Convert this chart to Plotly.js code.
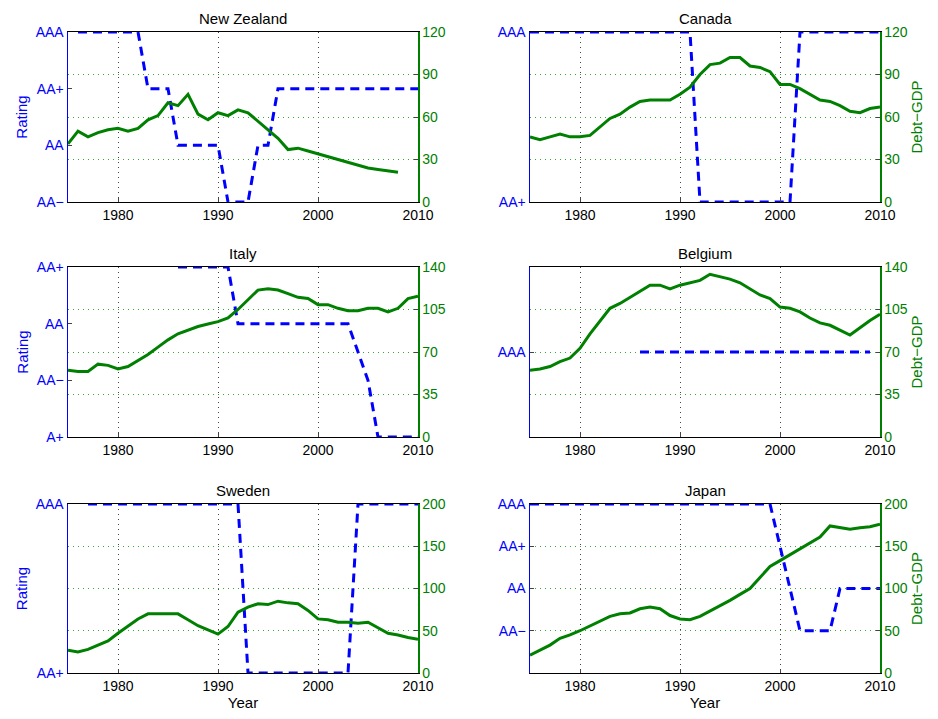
<!DOCTYPE html>
<html>
<head>
<meta charset="utf-8">
<script src="https://cdn.plot.ly/plotly-3.0.1.min.js"></script>
<style>body{margin:0;background:#fff}#chart{width:938px;height:719px}</style>
</head>
<body>
<div id="chart"></div>
<script>
// debt-GDP years 1975..2010
var years = []
for (var y = 1975; y <= 2010; y++) years.push(y)

var nzDebt = [41,50,46,49,51,52,50,52,58,61,70,68,76,62,58,63,61,65,63,57,51,45,37,38,36,34,32,30,28,26,24,23,22,21]
var caDebt = [46,44,46,48,46,46,47,53,59,62,67,71,72,72,72,76,81,90,97,98,102,102,96,95,92,83,83,80,76,72,71,68,64,63,66,67]
var itDebt = [55,54,54,60,59,56,58,63,68,74,80,85,88,91,93,95,98,105,113,121,122,121,118,115,114,109,109,106,104,104,106,106,103,106,114,116]
var beDebt = [55,56,58,62,65,73,85,96,106,110,115,120,125,125,122,125,127,129,134,132,130,127,122,117,114,107,106,103,98,94,92,88,84,90,96,101]
var seDebt = [27,25,28,33,38,47,55,64,70,70,70,70,63,56,51,46,55,72,78,82,81,85,83,82,74,64,63,60,60,59,60,53,47,45,42,40]
var jpDebt = [21,27,33,41,45,50,56,61,67,70,71,76,78,76,68,64,63,67,73,79,86,93,100,113,126,133,140,147,153,161,174,172,170,172,173,176]

// rating paths (year, rating index)
var nzRateX = [1976,1982,1983,1985,1986,1990,1991,1993,1994,1995,1996,2010]
var nzRateY = [3,3,2,2,1,1,0,0,1,1,2,2]
var caRateX = [1975,1991,1992,2001,2002,2010]
var caRateY = [1,1,0,0,1,1]
var itRateX = [1986,1991,1992,2003,2005,2006,2010]
var itRateY = [3,3,2,2,1,0,0]
var beRateX = [1986,2009]
var beRateY = [1,1]
var seRateX = [1977,1992,1993,2003,2004,2010]
var seRateY = [1,1,0,0,1,1]
var jpRateX = [1975,1999,2002,2005,2006,2010]
var jpRateY = [4,4,1,1,2,2]

var panels = [
  {title: 'New Zealand', debt: nzDebt, rx: nzRateX, ry: nzRateY, rRange: [0,3], rTicks: [0,1,2,3], rText: ['AA−','AA','AA+','AAA'], dMax: 120, dTicks: [0,30,60,90,120], col: 0, row: 0},
  {title: 'Canada', debt: caDebt, rx: caRateX, ry: caRateY, rRange: [0,1], rTicks: [0,1], rText: ['AA+','AAA'], dMax: 120, dTicks: [0,30,60,90,120], col: 1, row: 0},
  {title: 'Italy', debt: itDebt, rx: itRateX, ry: itRateY, rRange: [0,3], rTicks: [0,1,2,3], rText: ['A+','AA−','AA','AA+'], dMax: 140, dTicks: [0,35,70,105,140], col: 0, row: 1},
  {title: 'Belgium', debt: beDebt, rx: beRateX, ry: beRateY, rRange: [0,2], rTicks: [1], rText: ['AAA'], dMax: 140, dTicks: [0,35,70,105,140], col: 1, row: 1},
  {title: 'Sweden', debt: seDebt, rx: seRateX, ry: seRateY, rRange: [0,1], rTicks: [0,1], rText: ['AA+','AAA'], dMax: 200, dTicks: [0,50,100,150,200], col: 0, row: 2},
  {title: 'Japan', debt: jpDebt, rx: jpRateX, ry: jpRateY, rRange: [0,4], rTicks: [1,2,3,4], rText: ['AA−','AA','AA+','AAA'], dMax: 200, dTicks: [0,50,100,150,200], col: 1, row: 2}
]

var W = 938, H = 719
var colX = [[68,418],[530,880]]
var rowY = [[32,202],[267,437],[504,673]]
var font = 'Liberation Sans, Arial, sans-serif'

var data = []
var layout = {
  width: W, height: H,
  margin: {l: 0, r: 0, t: 0, b: 0},
  paper_bgcolor: '#fff', plot_bgcolor: '#fff',
  showlegend: false,
  font: {family: font, size: 14},
  annotations: []
}

panels.forEach(function (p, i) {
  var n = i + 1
  var xa = 'x' + n, yl = 'y' + (2 * i + 1), yr = 'y' + (2 * i + 2)
  var xd = [colX[p.col][0] / W, colX[p.col][1] / W]
  var yd = [1 - rowY[p.row][1] / H, 1 - rowY[p.row][0] / H]

  layout['xaxis' + n] = {
    domain: xd, anchor: yl, range: [1975, 2010],
    tickvals: [1980, 1990, 2000, 2010], ticks: 'inside', ticklen: 4,
    showline: true, mirror: true, linecolor: '#000', linewidth: 1,
    showgrid: true, gridcolor: '#444', griddash: '1px,4px', gridwidth: 1,
    zeroline: false, tickfont: {size: 14, color: '#000'},
    title: p.row === 2 ? {text: 'Year', font: {size: 15, color: '#000'}, standoff: 2} : undefined
  }
  layout['yaxis' + (2 * i + 1)] = {
    domain: yd, anchor: xa, range: p.rRange,
    tickvals: p.rTicks, ticktext: p.rText, ticks: 'inside', ticklen: 4,
    showline: true, linecolor: '#0000ff', linewidth: 1.5,
    showgrid: false, zeroline: false, tickfont: {size: 14, color: '#0000ff'},
    title: p.col === 0 ? {text: 'Rating', font: {size: 15, color: '#0000ff'}, standoff: 4} : undefined
  }
  layout['yaxis' + (2 * i + 2)] = {
    domain: yd, anchor: xa, overlaying: yl, side: 'right', range: [0, p.dMax],
    tickvals: p.dTicks, ticks: 'inside', ticklen: 4,
    showline: true, linecolor: '#008000', linewidth: 1.5,
    showgrid: true, gridcolor: '#33aa33', griddash: '1px,4px', gridwidth: 1,
    zeroline: false, tickfont: {size: 14, color: '#008000'},
    title: p.col === 1 ? {text: 'Debt−GDP', font: {size: 15, color: '#008000'}, standoff: 4} : undefined
  }

  data.push({
    x: years.slice(0, p.debt.length), y: p.debt, xaxis: xa, yaxis: yr,
    type: 'scatter', mode: 'lines', line: {color: '#008000', width: 3}, hoverinfo: 'skip'
  })
  data.push({
    x: p.rx, y: p.ry, xaxis: xa, yaxis: yl,
    type: 'scatter', mode: 'lines', line: {color: '#0000ff', width: 3, dash: '9px,6px'}, hoverinfo: 'skip', cliponaxis: false
  })

  layout.annotations.push({
    text: p.title, xref: 'paper', yref: 'paper',
    x: (xd[0] + xd[1]) / 2, y: yd[1], yanchor: 'bottom', xanchor: 'center', yshift: 3,
    showarrow: false, font: {size: 15, color: '#000'}
  })
})

Plotly.newPlot('chart', data, layout, {displayModeBar: false, staticPlot: true})
</script>
</body>
</html>
